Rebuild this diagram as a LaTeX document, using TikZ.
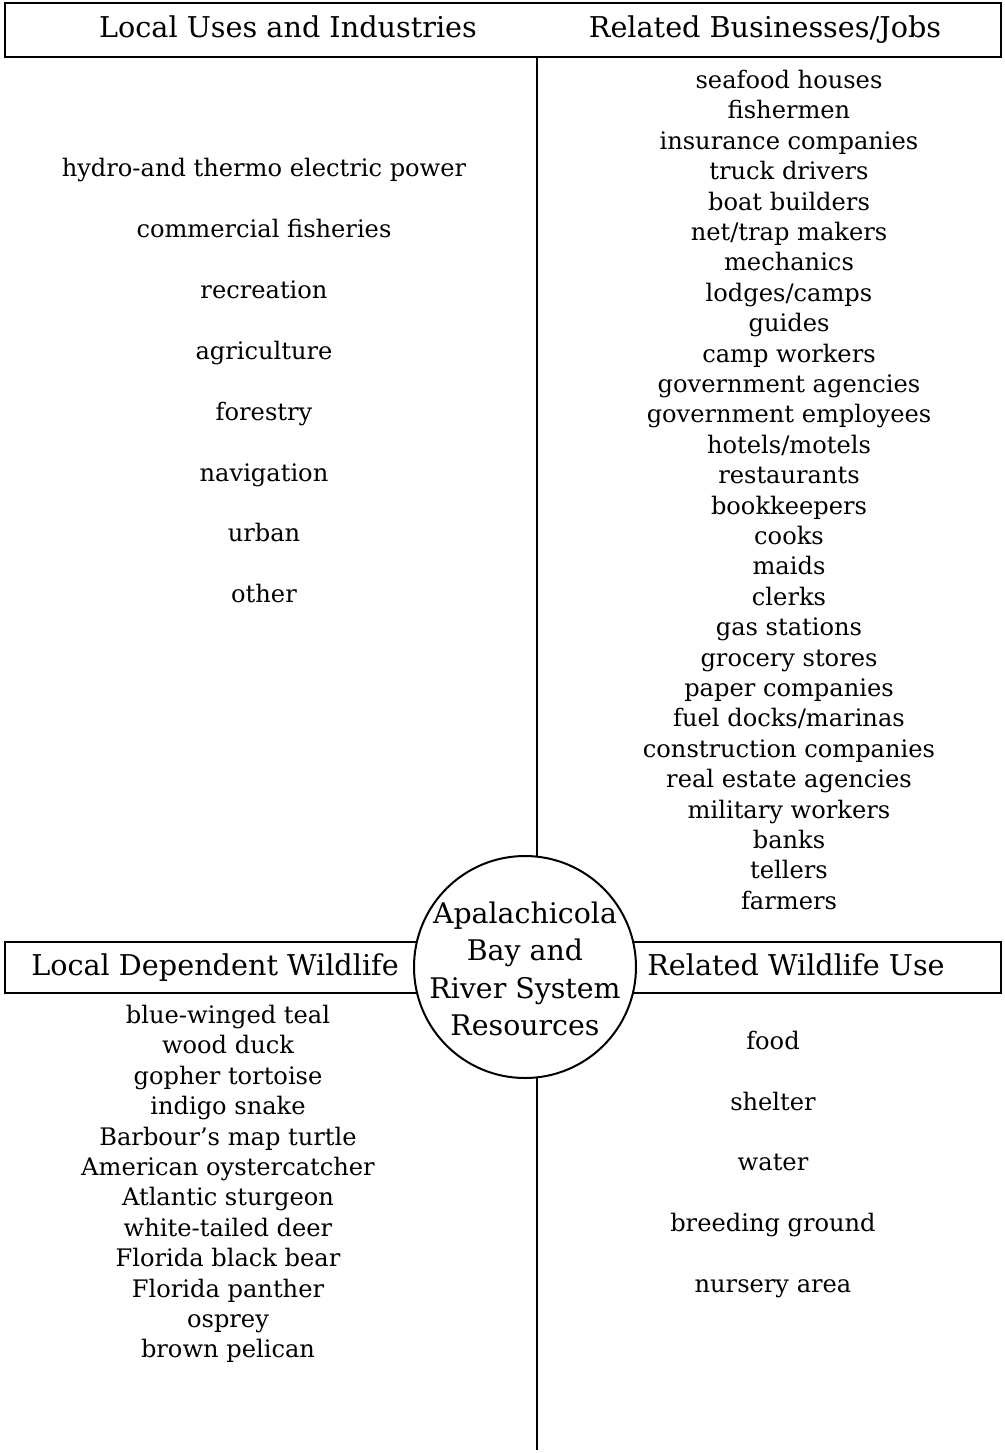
\documentclass[tikz,border=0pt]{standalone}
\usepackage{fontspec}
\setmainfont{DejaVu Serif}
\usetikzlibrary{positioning}

\begin{document}
\begin{tikzpicture}[x=0.75pt,y=-0.75pt,
    frame/.style={draw,line width=1.5pt,fill=white,inner sep=0pt,outer sep=0pt},
    head/.style={font=\fontsize{21.5}{24}\selectfont,inner sep=0pt,text height=17pt,text depth=2.8pt},
    item/.style={font=\fontsize{18.1}{20}\selectfont,inner sep=0pt,text height=16.8pt,text depth=4pt},
    hubtext/.style={font=\fontsize{21.3}{28}\selectfont,align=center,inner sep=0pt}]
  \useasboundingbox (0,0) rectangle (1004,1453);

  % frames and the stem
  \node[frame,minimum width=747pt,minimum height=40.5pt] (topbox) at (503,30) {};
  \coordinate (stemfoot) at (537,1450);
  \draw[line width=1.5pt] (topbox.south -| stemfoot) -- (stemfoot);
  \node[frame,minimum width=747pt,minimum height=38.25pt] (band) at (503,967.5) {};
  \node[frame,circle,minimum size=166.5pt] (hub) at (525,967) {};
  \node[hubtext] (hubLabel) at ([yshift=-1.5pt]hub.center) {Apalachicola\\Bay and\\River System\\Resources};

  % headings
  \node[head] (usesHead) at (288,28) {Local Uses and Industries};
  \node[head] (jobsHead) at (765,28) {Related Businesses/Jobs};
  \node[head] (wildHead) at (215,966) {Local Dependent Wildlife};
  \node[head] (useHead) at (796,966) {Related Wildlife Use};

  % lists
  \foreach \txt [count=\k] in {hydro-and thermo electric power, commercial fisheries,
      recreation, agriculture, forestry, navigation, urban, other}
    \node[item] (uses\k) at (264,{168+60.9*(\k-1)}) {\txt};
  \foreach \txt [count=\k] in {seafood houses, fishermen, insurance companies,
      truck drivers, boat builders, net/trap makers, mechanics, lodges/camps, guides,
      camp workers, government agencies, government employees, hotels/motels,
      restaurants, bookkeepers, cooks, maids, clerks, gas stations, grocery stores,
      paper companies, fuel docks/marinas, construction companies,
      real estate agencies, military workers, banks, tellers, farmers}
    \node[item] (jobs\k) at (789,{80+30.4*(\k-1)}) {\txt};
  \foreach \txt [count=\k] in {blue-winged teal, wood duck, gopher tortoise,
      indigo snake, Barbour’s map turtle, American oystercatcher, Atlantic sturgeon,
      white-tailed deer, Florida black bear, Florida panther, osprey, brown pelican}
    \node[item] (wild\k) at (228,{1015+30.4*(\k-1)}) {\txt};
  \foreach \txt [count=\k] in {food, shelter, water, breeding ground, nursery area}
    \node[item] (use\k) at (773,{1041+60.7*(\k-1)}) {\txt};
\end{tikzpicture}
\end{document}
